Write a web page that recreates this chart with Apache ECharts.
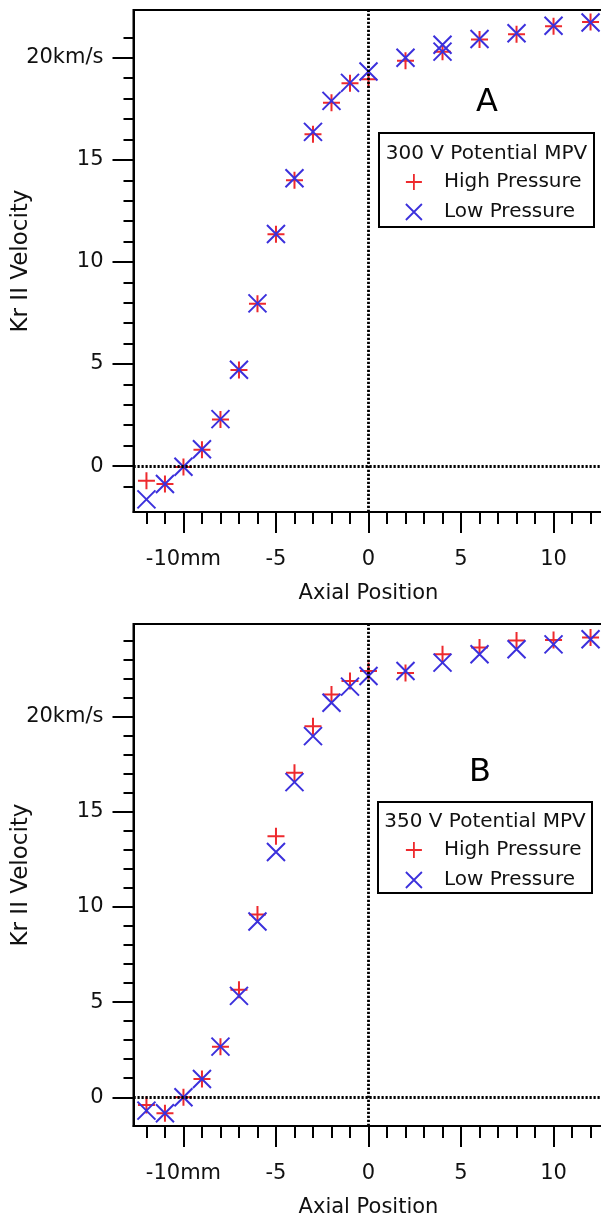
<!DOCTYPE html>
<html>
<head>
<meta charset="utf-8">
<title>Kr II Velocity vs Axial Position</title>
<script src="https://cdn.jsdelivr.net/npm/echarts@6/dist/echarts.min.js"></script>
<style>
  html, body { margin: 0; padding: 0; background: #fff; }
  #chart { width: 601px; height: 1217px; }
</style>
</head>
<body>
<div id="chart"></div>
<script>
// Axial positions (mm) of the measurements
var positions = [-12, -11, -10, -9, -8, -7, -6, -5, -4, -3, -2, -1, 0, 2, 4, 6, 8, 10, 12];
var positionsLowA = [-12, -11, -10, -9, -8, -7, -6, -5, -4, -3, -2, -1, 0, 2, 4, 4, 6, 8, 10, 12];

// 300 V potential, most probable velocity (km/s)
var highA = [-0.72, -0.88, -0.05, 0.80, 2.28, 4.70, 7.95, 11.35, 14.0, 16.25, 17.80, 18.75, 18.95, 19.85, 20.30, 20.90, 21.15, 21.55, 21.75];
var lowA  = [-1.63, -0.88, -0.03, 0.82, 2.30, 4.72, 7.97, 11.37, 14.1, 16.37, 17.89, 18.77, 19.33, 20.0, 20.64, 20.30, 20.92, 21.20, 21.57, 21.73];

// 350 V potential, most probable velocity (km/s)
var highB = [-0.40, -0.84, 0.0, 0.96, 2.66, 5.65, 9.60, 13.72, 17.05, 19.50, 21.17, 21.87, 22.40, 22.30, 23.28, 23.63, 24.0, 24.03, 24.16];
var lowB  = [-0.70, -0.84, 0.0, 0.96, 2.66, 5.33, 9.24, 12.89, 16.56, 18.98, 20.73, 21.58, 22.14, 22.40, 22.84, 23.28, 23.54, 23.80, 24.07];

// Tick positions
var xMajor = [-10, -5, 0, 5, 10];
var xMinor = [-12, -11, -9, -8, -7, -6, -4, -3, -2, -1, 1, 2, 3, 4, 6, 7, 8, 9, 11, 12];
var yMajor = [0, 5, 10, 15, 20];
var yMinorA = [-1, 1, 2, 3, 4, 6, 7, 8, 9, 11, 12, 13, 14, 16, 17, 18, 19, 21];
var yMinorB = [1, 2, 3, 4, 6, 7, 8, 9, 11, 12, 13, 14, 16, 17, 18, 19, 21, 22, 23, 24];

var panelTitles = ['300 V Potential MPV', '350 V Potential MPV'];
var panelLetters = ['A', 'B'];
var seriesNames = ['High Pressure', 'Low Pressure'];

var RED = '#ee2a2e';
var BLUE = '#3b30dc';
var FONT = 'DejaVu Sans';
var PLUS = 'path://M5,0L5,10M0,5L10,5';
var CROSS = 'path://M0,0L10,10M10,0L0,10';

function pairs(xs, ys) {
  return xs.map(function (x, i) { return [x, ys[i]]; });
}

var grids = [
  { left: 133.5, top: 10, width: 470, height: 502 },
  { left: 133.5, top: 624, width: 470, height: 502 }
];
var yRanges = [[-2.25, 22.34], [-1.51, 24.87]];
var yMinors = [yMinorA, yMinorB];

var axisLine = { show: true, onZero: false, lineStyle: { color: '#000', width: 2 } };
var hiddenLine = { show: false, onZero: false };

var xAxes = [], yAxes = [];
grids.forEach(function (g, gi) {
  xAxes.push({
    type: 'value', gridIndex: gi, min: -12.7, max: 12.7, position: 'bottom',
    axisLine: axisLine, splitLine: { show: false },
    axisTick: { show: true, inside: false, length: 21, lineStyle: { color: '#000', width: 2 }, customValues: xMajor },
    axisLabel: {
      show: true, margin: 37, color: '#111', fontFamily: FONT, fontSize: 21,
      customValues: xMajor,
      formatter: function (v) { return v === -10 ? '-10mm' : String(v); }
    },
    name: 'Axial Position', nameLocation: 'middle', nameGap: 71, nameMoveOverlap: false,
    nameTextStyle: { color: '#111', fontFamily: FONT, fontSize: 21 }
  });
  xAxes.push({
    type: 'value', gridIndex: gi, min: -12.7, max: 12.7, position: 'bottom',
    axisLine: hiddenLine, splitLine: { show: false },
    axisTick: { show: true, inside: false, length: 12, lineStyle: { color: '#000', width: 2 }, customValues: xMinor },
    axisLabel: { show: false }
  });
  yAxes.push({
    type: 'value', gridIndex: gi, min: yRanges[gi][0], max: yRanges[gi][1], position: 'left',
    axisLine: axisLine, splitLine: { show: false },
    axisTick: { show: true, inside: false, length: 21, lineStyle: { color: '#000', width: 2 }, customValues: yMajor },
    axisLabel: {
      show: true, margin: 30, color: '#111', fontFamily: FONT, fontSize: 21,
      customValues: yMajor,
      formatter: function (v) { return v === 20 ? '20km/s' : String(v); }
    },
    name: 'Kr II Velocity', nameLocation: 'middle', nameGap: 101, nameRotate: 90, nameMoveOverlap: false,
    nameTextStyle: { color: '#111', fontFamily: FONT, fontSize: 23 }
  });
  yAxes.push({
    type: 'value', gridIndex: gi, min: yRanges[gi][0], max: yRanges[gi][1], position: 'left',
    axisLine: hiddenLine, splitLine: { show: false },
    axisTick: { show: true, inside: false, length: 10, lineStyle: { color: '#000', width: 2 }, customValues: yMinors[gi] },
    axisLabel: { show: false }
  });
});

function zeroLines() {
  return {
    silent: true, symbol: 'none', animation: false,
    label: { show: false },
    lineStyle: { color: '#000', width: 2.8, type: [2.2, 1.8], opacity: 1 },
    emphasis: { disabled: true },
    data: [{ xAxis: 0 }, { yAxis: 0 }]
  };
}

function scatter(name, data, gi, symbol, color, withLines) {
  var s = {
    name: name, type: 'scatter', xAxisIndex: gi * 2, yAxisIndex: gi * 2,
    data: data, symbol: symbol, symbolSize: name === seriesNames[0] ? 17 : 18,
    itemStyle: { color: 'rgba(0,0,0,0)', borderColor: color, borderWidth: 2, opacity: 1 },
    emphasis: { disabled: true },
    z: name === seriesNames[0] ? 3 : 4
  };
  if (withLines) s.markLine = zeroLines();
  return s;
}

var series = [
  scatter(seriesNames[0], pairs(positions, highA), 0, PLUS, RED, true),
  scatter(seriesNames[1], pairs(positionsLowA, lowA), 0, CROSS, BLUE, false),
  scatter(seriesNames[0], pairs(positions, highB), 1, PLUS, RED, true),
  scatter(seriesNames[1], pairs(positions, lowB), 1, CROSS, BLUE, false)
];

// Legend boxes and panel letters
var boxes = [
  { x: 379, y: 133, w: 215, h: 94, header: 154, letterX: 487, letterY: 103 },
  { x: 378, y: 802, w: 214, h: 91, header: 822, letterX: 480, letterY: 773 }
];

var graphics = [];
var legends = [];
boxes.forEach(function (b, i) {
  graphics.push({
    type: 'rect', z: 5, silent: true,
    shape: { x: b.x, y: b.y, width: b.w, height: b.h },
    style: { fill: '#fff', stroke: '#000', lineWidth: 2 }
  });
  graphics.push({
    type: 'text', z: 6, silent: true,
    x: b.x + b.w / 2, y: b.header,
    style: { text: panelTitles[i], fill: '#111', font: '20px "DejaVu Sans"', align: 'center', verticalAlign: 'middle' }
  });
  graphics.push({
    type: 'text', z: 6, silent: true,
    x: b.letterX, y: b.letterY,
    style: { text: panelLetters[i], fill: '#000', font: '32px "DejaVu Sans"', align: 'center', verticalAlign: 'middle' }
  });
  legends.push({
    orient: 'vertical', left: 405, top: b.header + 18,
    itemWidth: 16, itemHeight: 16, itemGap: 10, padding: 0,
    z: 10, selectedMode: false,
    textStyle: { color: '#111', fontFamily: FONT, fontSize: 20, lineHeight: 16, padding: [0, 0, 0, 17] },
    data: [
      { name: seriesNames[0], icon: PLUS, itemStyle: { color: 'rgba(0,0,0,0)', borderColor: RED, borderWidth: 1.8 } },
      { name: seriesNames[1], icon: CROSS, itemStyle: { color: 'rgba(0,0,0,0)', borderColor: BLUE, borderWidth: 1.8 } }
    ]
  });
});

var chart = echarts.init(document.getElementById('chart'), null, { renderer: 'canvas' });
chart.setOption({
  animation: false,
  backgroundColor: '#fff',
  grid: grids.map(function (g) {
    return Object.assign({
      show: true, borderColor: '#000', borderWidth: 2, backgroundColor: 'rgba(0,0,0,0)',
      containLabel: false, outerBoundsMode: 'none'
    }, g);
  }),
  xAxis: xAxes,
  yAxis: yAxes,
  legend: legends,
  graphic: graphics,
  series: series
});
</script>
</body>
</html>
